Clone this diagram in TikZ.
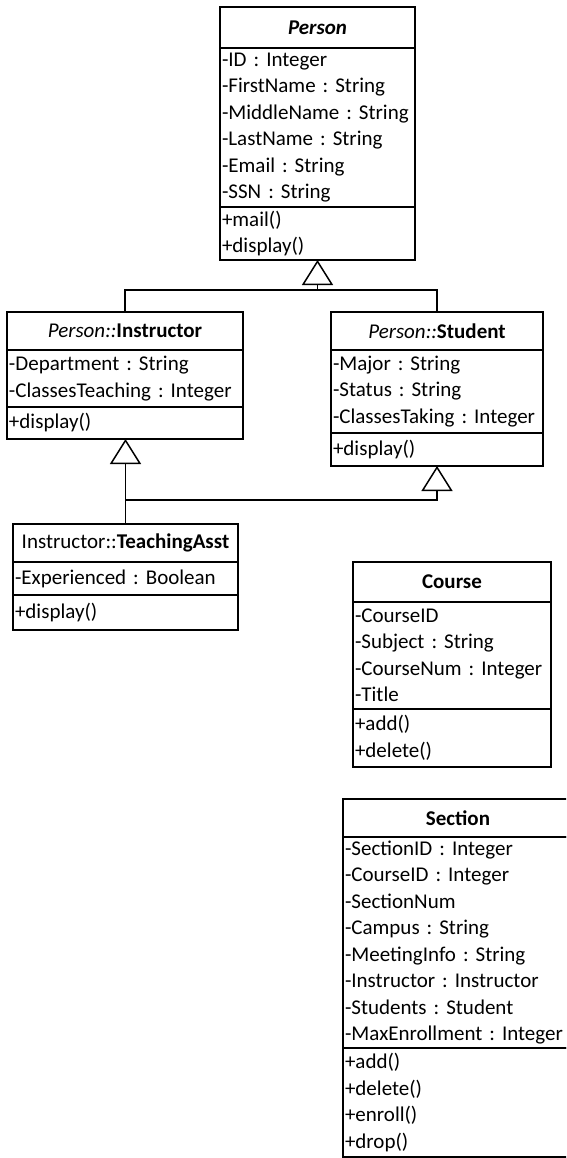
\documentclass[tikz,border=0pt]{standalone}
\usepackage{fontspec}
\setmainfont{Carlito}
\usetikzlibrary{arrows.meta}

\begin{document}
\begin{tikzpicture}[x=1pt,y=-1pt,
  font=\fontsize{21}{26.5}\selectfont\frenchspacing,
  part/.style={draw, line width=1.5pt, anchor=north west, outer sep=0pt,
    inner xsep=2pt, inner ysep=0pt, align=left},
  title/.style={part, align=center},
  link/.style={line width=1.5pt},
  inherit/.style={link, -{Triangle[open, width=31pt, length=25pt, line width=1.5pt]}}]
  \clip (0,0) rectangle (566,1158);
  % Person
  \node[title, text width=191pt, minimum height=41pt] (personH) at (220,7) {\textbf{\textit{Person}}};
  \node[part, text width=191pt, minimum height=159pt] (personA) at (personH.south west)
    {-ID : Integer\\-FirstName : String\\-MiddleName : String\\-LastName : String\\-Email : String\\-SSN : String};
  \node[part, text width=191pt, minimum height=53pt] (personM) at (personA.south west)
    {+mail()\\+display()};
  % Instructor
  \node[title, text width=232pt, minimum height=38pt] (instrH) at (7,312) {\textit{Person::}\textbf{Instructor}};
  \node[part, text width=232pt, minimum height=57pt] (instrA) at (instrH.south west)
    {-Department : String\\-ClassesTeaching : Integer};
  \node[part, text width=232pt, minimum height=32pt] (instrM) at (instrA.south west) {+display()};
  % Student
  \node[title, text width=208pt, minimum height=38pt] (studH) at (331,312) {\textit{Person::}\textbf{Student}};
  \node[part, text width=208pt, minimum height=83pt] (studA) at (studH.south west)
    {-Major : String\\-Status : String\\-ClassesTaking : Integer};
  \node[part, text width=208pt, minimum height=33pt] (studM) at (studA.south west) {+display()};
  % TeachingAsst
  \node[title, text width=221pt, minimum height=38pt] (taH) at (13,524) {Instructor::\textbf{TeachingAsst}};
  \node[part, text width=221pt, minimum height=33pt] (taA) at (taH.south west) {-Experienced : Boolean};
  \node[part, text width=221pt, minimum height=35pt] (taM) at (taA.south west) {+display()};
  % Course
  \node[title, text width=194pt, minimum height=40pt] (courseH) at (353,562) {\textbf{Course}};
  \node[part, text width=194pt, minimum height=107pt] (courseA) at (courseH.south west)
    {-CourseID\\-Subject : String\\-CourseNum : Integer\\-Title};
  \node[part, text width=194pt, minimum height=58pt] (courseM) at (courseA.south west)
    {+add()\\+delete()};
  % Section
  \node[title, text width=226pt, minimum height=38pt] (sectH) at (343,799) {\textbf{Section}};
  \node[part, text width=226pt, minimum height=211pt] (sectA) at (sectH.south west)
    {-SectionID : Integer\\-CourseID : Integer\\-SectionNum\\-Campus : String\\-MeetingInfo : String\\-Instructor : Instructor\\-Students : Student\\-MaxEnrollment : Integer};
  \node[part, text width=226pt, minimum height=109pt] (sectM) at (sectA.south west)
    {+add()\\+delete()\\+enroll()\\+drop()};
  % generalisations
  \coordinate (pjoin) at (personM.south |- 0,290);
  \draw[inherit] (pjoin) -- (personM.south);
  \draw[link] (instrH.north) |- (pjoin) -| (studH.north);
  \draw[inherit] (taH.north) -- (taH.north |- instrM.south);
  \coordinate (tjoin) at (taH.north |- 0,500);
  \draw[inherit] (tjoin) -| (studM.south);
\end{tikzpicture}
\end{document}
